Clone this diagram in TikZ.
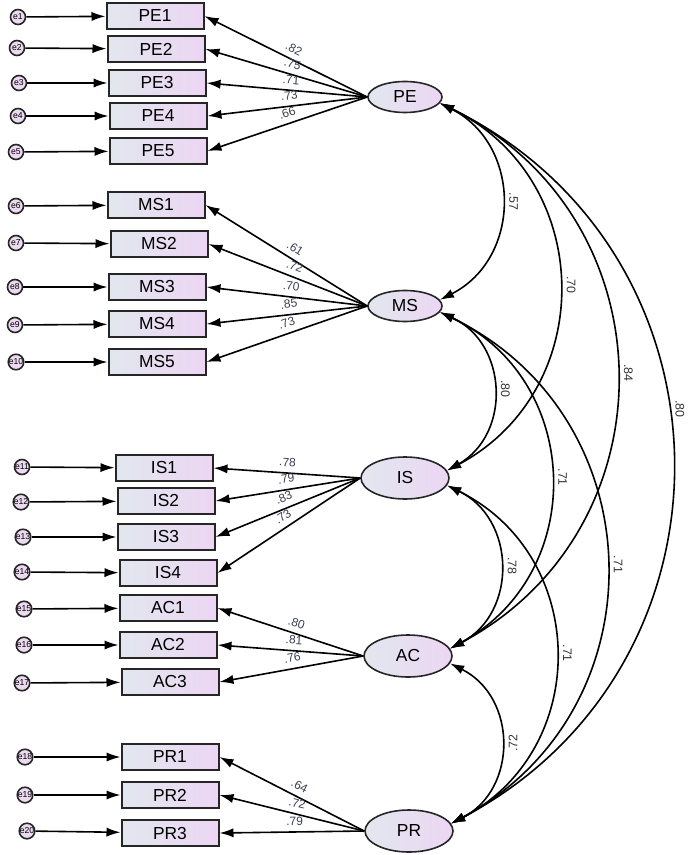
\documentclass[tikz,border=0pt]{standalone}
\usepackage{fontspec}
\setmainfont{Liberation Sans}
\usepackage{xcolor}
\usetikzlibrary{arrows.meta,shapes.geometric}

\definecolor{boxl}{RGB}{226,231,239}
\definecolor{boxr}{RGB}{236,214,243}
\definecolor{errf}{RGB}{235,218,240}
\definecolor{lbl}{RGB}{58,64,82}

\begin{document}
\begin{tikzpicture}[x=0.5pt, y=-0.5pt, >={Latex[length=7pt,width=4.6pt]},
  item/.style={draw=black!85, line width=1pt, left color=boxl, right color=boxr, minimum width=48.5pt, minimum height=13pt, inner sep=0pt, font=\fontsize{8.7}{10}\selectfont},
  fac/.style={ellipse, draw=black!85, line width=0.8pt, left color=boxl, right color=boxr, inner sep=0pt, minimum width=37pt, minimum height=15.5pt, font=\fontsize{8.7}{10}\selectfont},
  bigfac/.style={fac, minimum width=44pt, minimum height=21pt},
  err/.style={circle, draw=black!85, line width=0.8pt, fill=errf, minimum size=7.5pt, inner sep=0pt, font=\fontsize{4.3}{5}\selectfont},
  load/.style={->, line width=0.8pt},
  cov/.style={<->, line width=0.8pt, bend left=63, looseness=1.2},
  val/.style={font=\fontsize{6}{7}\selectfont, text=lbl, inner sep=0.8pt},
  cval/.style={font=\fontsize{6.2}{7}\selectfont, text=black!80, inner sep=3.5pt}]
\useasboundingbox (0,0) rectangle (690,855);

% latent factors
\node[fac] (pe) at (405,97) {PE};
\node[fac] (ms) at (405,306) {MS};
\node[bigfac] (is) at (405,478) {IS};
\node[bigfac] (ac) at (408,656) {AC};
\node[bigfac] (pr) at (409,831) {PR};

% observed items
\node[item] (pe1) at (155,16) {PE1};
\node[item] (pe2) at (156,49) {PE2};
\node[item] (pe3) at (157,83) {PE3};
\node[item] (pe4) at (158,116) {PE4};
\node[item] (pe5) at (158,151) {PE5};
\node[item] (ms1) at (156,205) {MS1};
\node[item] (ms2) at (159,244) {MS2};
\node[item] (ms3) at (157,287) {MS3};
\node[item] (ms4) at (157,324) {MS4};
\node[item] (ms5) at (157,362) {MS5};
\node[item] (is1) at (164,468) {IS1};
\node[item] (is2) at (166,501) {IS2};
\node[item] (is3) at (166,537) {IS3};
\node[item] (is4) at (168,573) {IS4};
\node[item] (ac1) at (168,608) {AC1};
\node[item] (ac2) at (168,645) {AC2};
\node[item] (ac3) at (170,682) {AC3};
\node[item] (pr1) at (170,757) {PR1};
\node[item] (pr2) at (170,795) {PR2};
\node[item] (pr3) at (170,833) {PR3};

% error terms
\node[err] (e1) at (18,17) {e1};
\node[err] (e2) at (17,48) {e2};
\node[err] (e3) at (19,83) {e3};
\node[err] (e4) at (18,116) {e4};
\node[err] (e5) at (16,152) {e5};
\node[err] (e6) at (16,206) {e6};
\node[err] (e7) at (16,243) {e7};
\node[err] (e8) at (15,287) {e8};
\node[err] (e9) at (15,325) {e9};
\node[err] (e10) at (16,362) {e10};
\node[err] (e11) at (22,467) {e11};
\node[err] (e12) at (21,502) {e12};
\node[err] (e13) at (23,537) {e13};
\node[err] (e14) at (22,572) {e14};
\node[err] (e15) at (24,609) {e15};
\node[err] (e16) at (24,645) {e16};
\node[err] (e17) at (22,683) {e17};
\node[err] (e18) at (25,757) {e18};
\node[err] (e19) at (25,795) {e19};
\node[err] (e20) at (27,831) {e20};

\draw[load] (e1) -- (pe1);
\draw[load] (e2) -- (pe2);
\draw[load] (e3) -- (pe3);
\draw[load] (e4) -- (pe4);
\draw[load] (e5) -- (pe5);
\draw[load] (e6) -- (ms1);
\draw[load] (e7) -- (ms2);
\draw[load] (e8) -- (ms3);
\draw[load] (e9) -- (ms4);
\draw[load] (e10) -- (ms5);
\draw[load] (e11) -- (is1);
\draw[load] (e12) -- (is2);
\draw[load] (e13) -- (is3);
\draw[load] (e14) -- (is4);
\draw[load] (e15) -- (ac1);
\draw[load] (e16) -- (ac2);
\draw[load] (e17) -- (ac3);
\draw[load] (e18) -- (pr1);
\draw[load] (e19) -- (pr2);
\draw[load] (e20) -- (pr3);

% loadings
\draw[load] (pe.west) -- (pe1.east) node[val, pos=0.48, above=2pt, sloped] {.82};
\draw[load] (pe.west) -- (pe2.east) node[val, pos=0.48, above=2pt, sloped] {.75};
\draw[load] (pe.west) -- (pe3.east) node[val, pos=0.48, above=2pt, sloped] {.71};
\draw[load] (pe.west) -- (pe4.east) node[val, pos=0.48, above=2pt, sloped] {.73};
\draw[load] (pe.west) -- (pe5.east) node[val, pos=0.48, above=2pt, sloped] {.66};
\draw[load] (ms.west) -- (ms1.east) node[val, pos=0.48, above=2pt, sloped] {.61};
\draw[load] (ms.west) -- (ms2.east) node[val, pos=0.48, above=2pt, sloped] {.72};
\draw[load] (ms.west) -- (ms3.east) node[val, pos=0.48, above=2pt, sloped] {.70};
\draw[load] (ms.west) -- (ms4.east) node[val, pos=0.48, above=2pt, sloped] {.85};
\draw[load] (ms.west) -- (ms5.east) node[val, pos=0.48, above=2pt, sloped] {.73};
\draw[load] (is.west) -- (is1.east) node[val, pos=0.5, above=2pt, sloped] {.78};
\draw[load] (is.west) -- (is2.east) node[val, pos=0.5, above=2pt, sloped] {.79};
\draw[load] (is.west) -- (is3.east) node[val, pos=0.5, above=2pt, sloped] {.83};
\draw[load] (is.west) -- (is4.east) node[val, pos=0.5, above=2pt, sloped] {.73};
\draw[load] (ac.west) -- (ac1.east) node[val, pos=0.48, above=2pt, sloped] {.80};
\draw[load] (ac.west) -- (ac2.east) node[val, pos=0.48, above=2pt, sloped] {.81};
\draw[load] (ac.west) -- (ac3.east) node[val, pos=0.48, above=2pt, sloped] {.76};
\draw[load] (pr.west) -- (pr1.east) node[val, pos=0.48, above=2pt, sloped] {.64};
\draw[load] (pr.west) -- (pr2.east) node[val, pos=0.48, above=2pt, sloped] {.72};
\draw[load] (pr.west) -- (pr3.east) node[val, pos=0.48, above=2pt, sloped] {.79};

% covariances
\draw[cov] (pe.-10) to node[cval, anchor=south, rotate=-90] {.57} (ms.10);
\draw[cov] (pe.-10) to node[cval, anchor=south, rotate=-90] {.70} (is.10);
\draw[cov] (pe.-10) to node[cval, anchor=south, rotate=-90] {.84} (ac.10);
\draw[cov] (pe.-10) to node[cval, pos=0.44, anchor=south, rotate=-90] {.80} (pr.10);
\draw[cov] (ms.-10) to node[cval, anchor=south, rotate=-90] {.80} (is.10);
\draw[cov] (ms.-10) to node[cval, anchor=south, rotate=-90] {.71} (ac.10);
\draw[cov] (ms.-10) to node[cval, anchor=south, rotate=-90] {.71} (pr.10);
\draw[cov] (is.-10) to node[cval, anchor=south, rotate=-90] {.78} (ac.10);
\draw[cov] (is.-10) to node[cval, anchor=south, rotate=-90] {.71} (pr.10);
\draw[cov] (ac.-10) to node[cval, anchor=north, rotate=90] {.72} (pr.10);
\end{tikzpicture}
\end{document}
